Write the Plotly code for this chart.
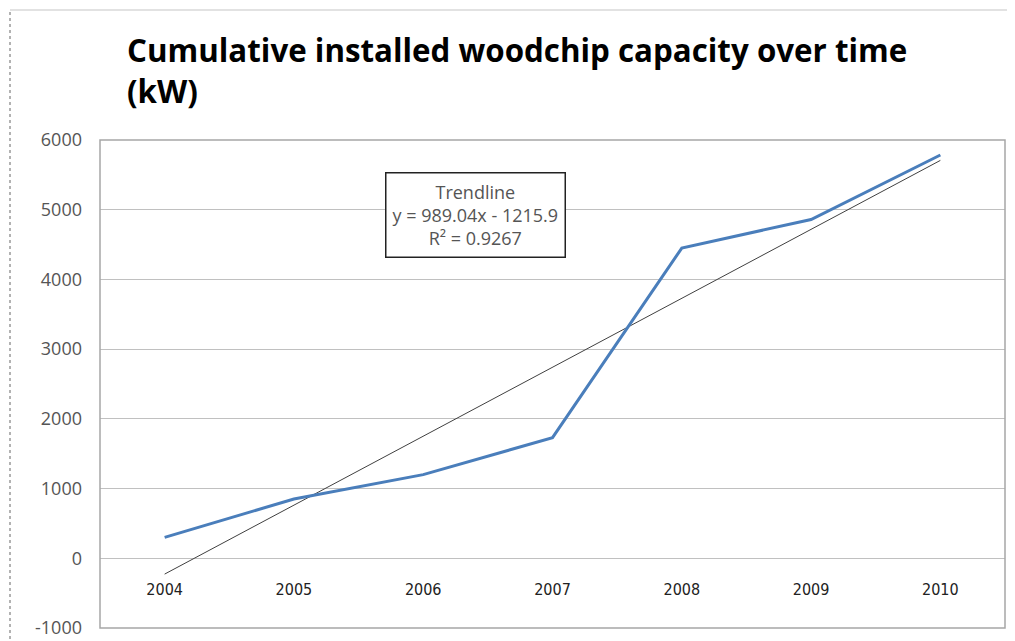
import plotly.graph_objects as go

years = ["2004", "2005", "2006", "2007", "2008", "2009", "2010"]
capacity_kw = [300, 850, 1200, 1730, 4450, 4860, 5785]
trend_slope = 989.04
trend_intercept = -1215.9
trend_r2 = 0.9267
y_ticks = [-1000, 0, 1000, 2000, 3000, 4000, 5000, 6000]
y_tick_labels = ["-1000", "0", "1000", "2000", "3000", "4000", "5000", "6000"]

trend_vals = [trend_slope * (i + 1) + trend_intercept for i in range(len(years))]

# page body has an 8px offset; figure sized accordingly
OFF = 8
W, H = 1015 - OFF, 641 - OFF
L, T = 100 - OFF, 140 - OFF
PW, PH = 905, 488
R, B = W - L - PW, H - T - PH

def px(x):  # screen x -> paper
    return (x - OFF - L) / PW

def py(y):  # screen y -> paper
    return (T + PH - (y - OFF)) / PH

fig = go.Figure()
fig.add_trace(go.Scatter(x=years, y=trend_vals, mode="lines",
                         line=dict(color="#404040", width=1), showlegend=False))
fig.add_trace(go.Scatter(x=years, y=capacity_kw, mode="lines",
                         line=dict(color="#4A7EBB", width=3), showlegend=False))

grid = "#C0C0C0"
fig.update_layout(
    width=W, height=H,
    margin=dict(l=L, r=R, t=T, b=B, autoexpand=False),
    paper_bgcolor="white", plot_bgcolor="white",
    title=dict(text="<b>Cumulative installed woodchip capacity over time<br>(kW)</b>",
               x=(127 - OFF) / W, xanchor="left", xref="container",
               y=1 - 54 / H, yanchor="top", yref="container",
               font=dict(family="Open Sans", size=31.3, color="black")),
    xaxis=dict(type="category", range=[-0.5, 6.5], anchor="free", position=1/7,
               showgrid=False, showline=False, ticks="", automargin=False,
               ticklabelstandoff=20,
               tickfont=dict(family="DejaVu Sans Condensed, Liberation Sans", size=16, color="#222222")),
    yaxis=dict(range=[-1000, 6000], tickvals=y_ticks, ticktext=y_tick_labels,
               showgrid=True, gridcolor=grid,
               gridwidth=1.2, zeroline=False, ticks="", automargin=False,
               ticklabelstandoff=17,
               tickfont=dict(family="Open Sans", size=18, color="#555555")),
    showlegend=False,
)
# plot-area frame
fig.add_shape(type="rect", xref="paper", yref="paper", x0=0, x1=1, y0=0, y1=1,
              line=dict(color="#A6A6A6", width=1.5))
# chart-area border pieces
fig.add_shape(type="line", xref="paper", yref="paper", x0=px(10), x1=px(10),
              y0=py(645), y1=py(10), line=dict(color="#999999", width=1.5, dash="dot"))
fig.add_shape(type="line", xref="paper", yref="paper", x0=px(10), x1=px(1015),
              y0=py(10), y1=py(10), line=dict(color="#D9D9D9", width=1.5))

fig.add_annotation(
    xref="paper", yref="paper", x=px(475), y=py(215), xanchor="center", yanchor="middle",
    text=f"Trendline<br>y = {trend_slope}x - {abs(trend_intercept)}<br>R² = {trend_r2}",
    showarrow=False, align="center",
    font=dict(family="Open Sans", size=18, color="#555555"),
    bordercolor="#222222", borderwidth=1.5, borderpad=6, bgcolor="white",
)

fig.write_html("out.html")
